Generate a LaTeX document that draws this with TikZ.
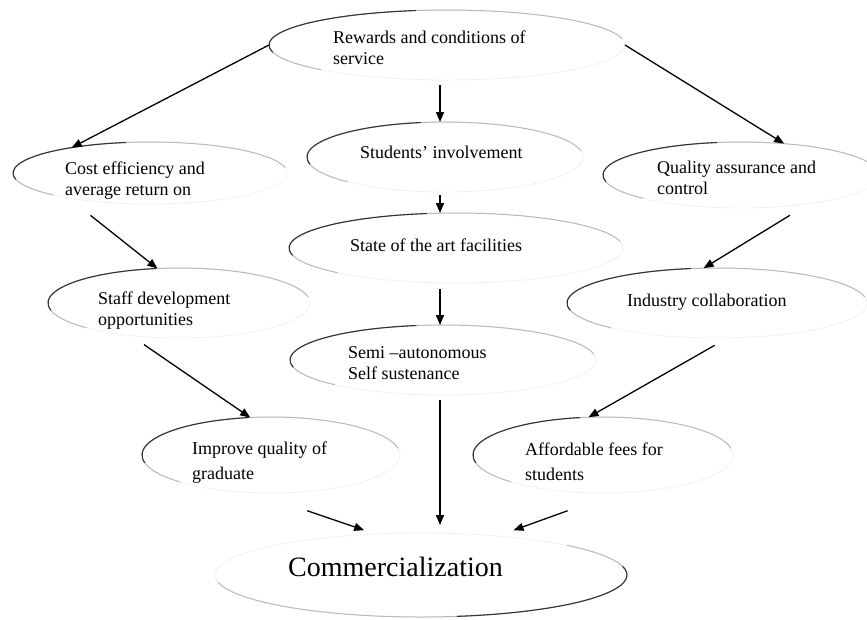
\documentclass[tikz,border=0pt]{standalone}
\usepackage{fontspec}
\setmainfont{Liberation Serif}
\usetikzlibrary{shapes.geometric, arrows.meta, calc}

\tikzset{
  oval/.style={ellipse, draw=gray!12, line width=0.8pt, inner sep=0pt, outer sep=0pt},
  edge mid/.style={draw=gray!55, line width=1pt},
  edge dark/.style={draw=black!80, line width=1.1pt},
  txt/.style={anchor=base west, align=left, inner sep=0pt, font=\fontsize{18}{21}\selectfont},
  arr/.style={-{Triangle[length=10pt, width=8pt]}, line width=1.3pt},
}

% shaded rim of an oval: node, x radius, y radius, turn
\newcommand{\ovaledge}[4]{%
  \begin{scope}[shift={(#1.center)}, rotate=#4]
    \draw[edge mid] (225:#2pt and #3pt) arc[start angle=225, end angle=10, x radius=#2pt, y radius=#3pt];
    \draw[edge dark] (192:#2pt and #3pt) arc[start angle=192, end angle=100, x radius=#2pt, y radius=#3pt];
  \end{scope}}

\begin{document}
\begin{tikzpicture}[x=1pt, y=-1pt]

    \useasboundingbox (0,0) rectangle (867,619);

    % Ovals
    \node[oval, minimum width=356pt, minimum height=70pt] (rewards) at (447,45) {};
    \node[oval, minimum width=274pt, minimum height=62pt] (cost) at (150,173) {};
    \node[oval, minimum width=276pt, minimum height=70pt] (students) at (445,157) {};
    \node[oval, minimum width=276pt, minimum height=66pt] (quality) at (741,175) {};
    \node[oval, minimum width=334pt, minimum height=70pt] (state) at (456,248) {};
    \node[oval, minimum width=262pt, minimum height=70pt] (staff) at (179,303) {};
    \node[oval, minimum width=300pt, minimum height=70pt] (industry) at (717,303) {};
    \node[oval, minimum width=306pt, minimum height=70pt] (semi) at (443,360) {};
    \node[oval, minimum width=258pt, minimum height=76pt] (improve) at (271,455) {};
    \node[oval, minimum width=260pt, minimum height=76pt] (afford) at (603,455) {};
    \node[oval, minimum width=412pt, minimum height=84pt] (comm) at (421,575) {};

    % Rims
    \ovaledge{rewards}{178}{35}{0}
    \ovaledge{cost}{137}{31}{0}
    \ovaledge{students}{138}{35}{0}
    \ovaledge{quality}{138}{33}{0}
    \ovaledge{state}{167}{35}{0}
    \ovaledge{staff}{131}{35}{0}
    \ovaledge{industry}{150}{35}{0}
    \ovaledge{semi}{153}{35}{0}
    \ovaledge{improve}{129}{38}{0}
    \ovaledge{afford}{130}{38}{0}
    \ovaledge{comm}{206}{42}{180}

    % Labels (base = last line)
    \node[txt] (rewards text) at (333,64) {Rewards and conditions of\\service};
    \node[txt] (cost text) at (65,195) {Cost efficiency and\\average return on};
    \node[txt] (students text) at (360,158) {Students’ involvement};
    \node[txt] (quality text) at (657,194) {Quality assurance and\\control};
    \node[txt] (state text) at (350,251) {State of the art facilities};
    \node[txt] (staff text) at (98,325) {Staff development\\opportunities};
    \node[txt] (industry text) at (627,306) {Industry collaboration};
    \node[txt] (semi text) at (348,379) {Semi –autonomous\\Self sustenance};
    \node[txt, font=\fontsize{18}{25}\selectfont] (improve text) at (192,479) {Improve quality of\\graduate};
    \node[txt, font=\fontsize{18}{25}\selectfont] (afford text) at (525,480) {Affordable fees for\\students};
    \node[txt, font=\fontsize{28}{34}\selectfont] (comm text) at (288,576) {Commercialization};

    % Central column of arrows
    \coordinate (spine) at (440,0);
    \draw[arr, shorten <=5pt] (rewards.south -| spine) -- (students.north -| spine);
    \draw[arr, shorten <=3pt] (students.south -| spine) -- (state.north -| spine);
    \draw[arr, shorten <=6pt] (state.south -| spine) -- (semi.north -| spine);
    \draw[arr, shorten <=5pt, shorten >=8pt] (semi.south -| spine) -- (comm.north -| spine);

    % Left branch
    \draw[arr] (rewards.west) -- (cost.162);
    \draw[arr, shorten <=28pt] (cost.197) -- (staff.122);
    \draw[arr, shorten <=16pt] (staff.214) -- (improve.119);
    \draw[arr, shorten <=56pt, shorten >=12pt] (improve.246) -- (comm.138);

    % Right branch
    \draw[arr] (rewards.east) -- (quality.36);
    \draw[arr, shorten <=22pt] (quality.337) -- (industry.111);
    \draw[arr, shorten <=15pt] (industry.287) -- (afford.111);
    \draw[arr, shorten <=53pt, shorten >=17pt] (afford.291) -- (comm.27);

\end{tikzpicture}
\end{document}
